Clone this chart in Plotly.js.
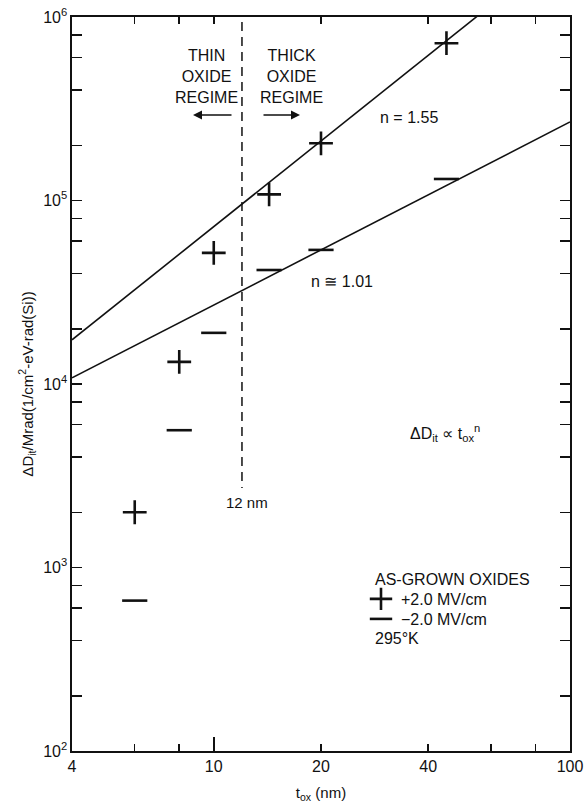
<!DOCTYPE html>
<html>
<head>
<meta charset="utf-8">
<script src="https://cdn.plot.ly/plotly-3.0.1.min.js"></script>
<style>html,body{margin:0;padding:0;background:#fff;}#chart{width:584px;height:803px;}</style>
</head>
<body>
<div id="chart"></div>
<script>
// Oxide thickness (nm) and interface-trap buildup per Mrad
const posFieldX = [6, 8, 10, 14.3, 20, 45];
const posFieldY = [2000, 13200, 51800, 108000, 205000, 720000];
const negFieldX = [6, 8, 10, 14.3, 20, 45];
const negFieldY = [660, 5600, 19000, 41800, 53800, 131000];
// power-law fit lines (endpoints)
const fitPosX = [4, 100];
const fitPosY = [17400, 2560000];
const fitNegX = [4, 100];
const fitNegY = [10800, 268000];
// thin / thick boundary
const boundaryX = [12, 12];
const boundaryY = [940000, 2710];
// axis ticks
const xTickVals = [4, 10, 20, 40, 100];
const xTickText = ['4', '10', '20', '40', '100'];
const xMinorVals = [6, 8, 60, 80];
const xLongTick = [10];
const yTickVals = [1e2, 1e3, 1e4, 1e5, 1e6];
const yTickText = ['10<sup>2</sup>', '10<sup>3</sup>', '10<sup>4</sup>', '10<sup>5</sup>', '10<sup>6</sup>'];
const yMinorVals = [];
[100, 1000, 10000, 100000].forEach(d => [2, 4, 6, 8].forEach(m => yMinorVals.push(m * d)));

const FONT = 'Liberation Sans, Arial, sans-serif';
const INK = '#111';

const traces = [
  {x: fitPosX, y: fitPosY, mode: 'lines', line: {color: INK, width: 1.6}, showlegend: false, hoverinfo: 'skip'},
  {x: fitNegX, y: fitNegY, mode: 'lines', line: {color: INK, width: 1.6}, showlegend: false, hoverinfo: 'skip'},
  {x: boundaryX, y: boundaryY, mode: 'lines', line: {color: INK, width: 1.5, dash: '9px,6px'}, showlegend: false, hoverinfo: 'skip'},
  {x: posFieldX, y: posFieldY, mode: 'markers', name: '+2.0 MV/cm', legend: 'legend',
   marker: {symbol: 'cross-thin', size: 17, line: {color: INK, width: 2.6}}},
  {x: negFieldX, y: negFieldY, mode: 'markers', name: '\u22122.0 MV/cm', legend: 'legend2',
   marker: {symbol: 'line-ew', size: 18, line: {color: INK, width: 2.6}}},
  // invisible helper trace on overlay axis carrying the long tick at 10 nm
  {x: xLongTick, y: [1e4], xaxis: 'x2', yaxis: 'y', mode: 'markers', marker: {opacity: 0}, showlegend: false, hoverinfo: 'skip'}
];

function px(x) { return (x - 72) / 498; }
function py(y) { return (751 - y) / 734; }

const ann = (text, x, y, opts) => Object.assign({text: text, xref: 'paper', yref: 'paper', x: px(x), y: py(y),
  xanchor: 'center', yanchor: 'middle',
  showarrow: false, font: {family: FONT, size: 16, color: INK}}, opts || {});

const legendStyle = (x, y) => ({x: px(x), y: py(y), xanchor: 'left', yanchor: 'top', bgcolor: 'rgba(0,0,0,0)',
  font: {family: FONT, size: 16, color: INK}, itemwidth: 30});

const layout = {
  width: 584, height: 803,
  margin: {l: 72, r: 14, t: 17, b: 52},
  paper_bgcolor: '#fff', plot_bgcolor: '#fff',
  font: {family: FONT, color: INK, size: 16},
  showlegend: true,
  legend: legendStyle(361, 582),
  legend2: legendStyle(361, 602),
  xaxis: {
    type: 'log', range: [Math.log10(4), 2],
    tickmode: 'array', tickvals: xTickVals, ticktext: xTickText,
    ticks: 'inside', ticklen: 7, tickwidth: 1.5, tickcolor: INK,
    minor: {tickmode: 'array', tickvals: xMinorVals, ticks: 'inside', ticklen: 7, tickwidth: 1.5, tickcolor: INK},
    showline: true, linecolor: INK, linewidth: 1.6, mirror: 'allticks',
    showgrid: false, zeroline: false,
    tickfont: {family: FONT, size: 16, color: INK},
    title: {text: 't<sub>ox</sub> (nm)', font: {family: FONT, size: 15, color: INK}, standoff: 16}
  },
  xaxis2: {
    type: 'log', range: [Math.log10(4), 2], overlaying: 'x', side: 'bottom',
    tickmode: 'array', tickvals: xLongTick, showticklabels: false,
    ticks: 'inside', ticklen: 14, tickwidth: 1.5, tickcolor: INK,
    showline: false, showgrid: false, zeroline: false
  },
  yaxis: {
    type: 'log', range: [2, 6],
    tickmode: 'array', tickvals: yTickVals, ticktext: yTickText,
    ticks: 'inside', ticklen: 10, tickwidth: 1.5, tickcolor: INK,
    minor: {tickmode: 'array', tickvals: yMinorVals, ticks: 'inside', ticklen: 7, tickwidth: 1.5, tickcolor: INK},
    showline: true, linecolor: INK, linewidth: 1.6, mirror: 'allticks',
    showgrid: false, zeroline: false,
    tickfont: {family: FONT, size: 16, color: INK},
    title: {text: '\u0394D<sub>it</sub>/Mrad(1/cm<sup>2</sup>-eV-rad(Si))', font: {family: FONT, size: 15, color: INK}, standoff: 6}
  },
  annotations: [
    ann('THIN<br>OXIDE<br>REGIME', 206, 76),
    ann('THICK<br>OXIDE<br>REGIME', 291, 76),
    {text: '', xref: 'paper', yref: 'paper', x: px(193), y: py(115), ax: 40, ay: 0, showarrow: true,
      arrowhead: 2, arrowsize: 1.2, arrowwidth: 1.5, arrowcolor: INK},
    {text: '', xref: 'paper', yref: 'paper', x: px(300), y: py(115), ax: -38, ay: 0, showarrow: true,
      arrowhead: 2, arrowsize: 1.2, arrowwidth: 1.5, arrowcolor: INK},
    ann('n = 1.55', 409, 117),
    ann('n \u2245 1.01', 342, 282),
    ann('\u0394D<sub>it</sub> \u221D t<sub>ox</sub><sup>n</sup>', 445, 433),
    ann('12 nm', 247, 502, {font: {family: FONT, size: 15, color: INK}}),
    ann('AS-GROWN OXIDES', 373, 579, {xanchor: 'left'}),
    ann('295\u00B0K', 373, 638, {xanchor: 'left'})
  ]
};

Plotly.newPlot('chart', traces, layout, {displayModeBar: false, staticPlot: true});
</script>
</body>
</html>
